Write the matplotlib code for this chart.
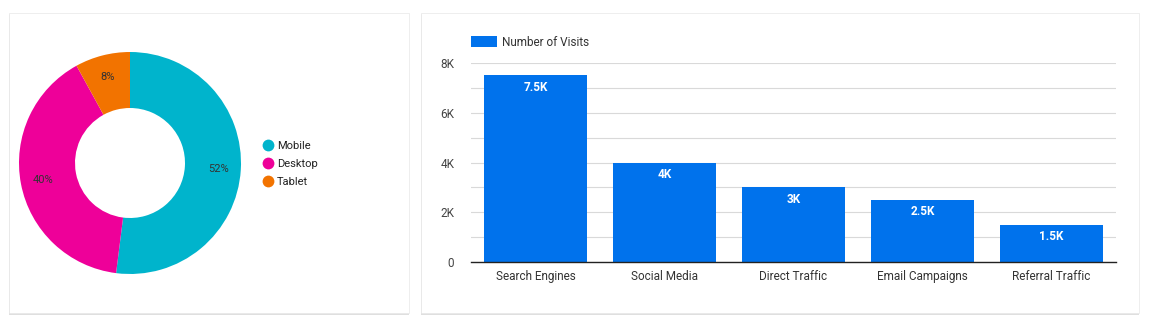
import matplotlib
matplotlib.use("Agg")
import matplotlib.pyplot as plt
from matplotlib.patches import Rectangle
from matplotlib.ticker import FuncFormatter, MultipleLocator
from matplotlib.lines import Line2D

plt.rcParams['font.family'] = ['Roboto', 'DejaVu Sans']

# ---- data ----
device_labels = ["Mobile", "Desktop", "Tablet"]
device_shares = [52, 40, 8]
device_colors = ["#00B4CC", "#EE0099", "#F27300"]

source_labels = ["Search Engines", "Social Media", "Direct Traffic", "Email Campaigns", "Referral Traffic"]
visits = [7500, 4000, 3000, 2500, 1500]
visit_labels = ["7.5K", "4K", "3K", "2.5K", "1.5K"]
series_name = "Number of Visits"
bar_color = "#0072EC"

W, H = 1156, 327
fig = plt.figure(figsize=(W / 100, H / 100), dpi=100)
fig.patch.set_facecolor("white")

def px_axes(x0, y0, x1, y1, **kw):
    # pixel coords with origin at top-left
    return fig.add_axes([x0 / W, 1 - y1 / H, (x1 - x0) / W, (y1 - y0) / H], **kw)

# ---- cards ----
bg = px_axes(0, 0, W, H)
bg.set_xlim(0, W)
bg.set_ylim(H, 0)
bg.axis("off")
for (x0, y0, x1, y1) in [(9, 13, 409, 313), (421, 13, 1139, 313)]:
    for i, a in enumerate([0.05, 0.08, 0.14]):
        bg.add_patch(Rectangle((x0 - 0.5 + i * 0.3, y0 + 0.5 + (3 - i) * 0.5), x1 - x0, y1 - y0,
                               facecolor="#000000", alpha=a, edgecolor="none", zorder=1))
    bg.add_patch(Rectangle((x0, y0), x1 - x0, y1 - y0, facecolor="white",
                           edgecolor="#EBEBEB", linewidth=0.6, zorder=2))

# ---- donut ----
cx, cy, R = 130, 163, 111
half = 120
pax = px_axes(cx - half, cy - half, cx + half, cy + half)
pax.axis("off")
wedges, texts, autotexts = pax.pie(
    device_shares, colors=device_colors, startangle=90, counterclock=False,
    radius=1.0, wedgeprops=dict(width=56 / R, edgecolor="none"),
    autopct=lambda p: f"{p:.0f}%", pctdistance=0.8,
    textprops=dict(fontsize=8, color="#333333"))
pax.set_aspect("equal")
pax.set_xlim(-half / R, half / R)
pax.set_ylim(-half / R, half / R)

# legend for donut
handles = [Line2D([0], [0], marker="o", linestyle="none", markersize=8.5,
                  markerfacecolor=c, markeredgecolor="none") for c in device_colors]
fig.legend(handles, device_labels, loc="upper left",
           bbox_to_anchor=(254 / W, 1 - 135 / H), frameon=False,
           fontsize=8, handletextpad=0.05, labelspacing=0.75,
           borderpad=0, handlelength=1.5, labelcolor="#222222")

# ---- bar chart ----
bax = px_axes(471, 63, 1116, 262)
x = list(range(len(source_labels)))
bars = bax.bar(x, visits, width=0.8, color=bar_color, label=series_name, zorder=3)
bax.set_xlim(-0.5, len(source_labels) - 0.5)
bax.set_ylim(0, 8000)
bax.yaxis.set_major_locator(MultipleLocator(2000))
bax.yaxis.set_minor_locator(MultipleLocator(1000))
bax.yaxis.set_major_formatter(FuncFormatter(lambda v, p: "0" if v == 0 else f"{v/1000:.0f}K"))
bax.grid(axis="y", which="both", color="#D9D9D9", linewidth=0.8, zorder=0)
bax.set_axisbelow(True)
for s in ["top", "right", "left"]:
    bax.spines[s].set_visible(False)
bax.spines["bottom"].set_color("#222222")
bax.spines["bottom"].set_linewidth(1.0)
bax.spines["bottom"].set_zorder(4)
bax.tick_params(axis="y", which="both", length=0, pad=12, labelsize=8.5, labelcolor="#444444")
bax.tick_params(axis="x", length=0, pad=6, labelsize=8.5, labelcolor="#333333")
bax.set_xticks(x)
bax.set_xticklabels(source_labels)
for rect, lab in zip(bars, visit_labels):
    bax.annotate(lab, (rect.get_x() + rect.get_width() / 2, rect.get_height()),
                 xytext=(0, -4), textcoords="offset points", ha="center", va="top",
                 color="white", fontsize=8.5, fontweight="bold", zorder=5)

bax.legend(loc="lower left", bbox_to_anchor=(0, 1.072), frameon=False, fontsize=8.5,
           handlelength=2.2, handleheight=1.1, handletextpad=0.45, borderpad=0, borderaxespad=0,
           labelcolor="#333333")

fig.savefig("out.png", dpi=100, facecolor="white")
